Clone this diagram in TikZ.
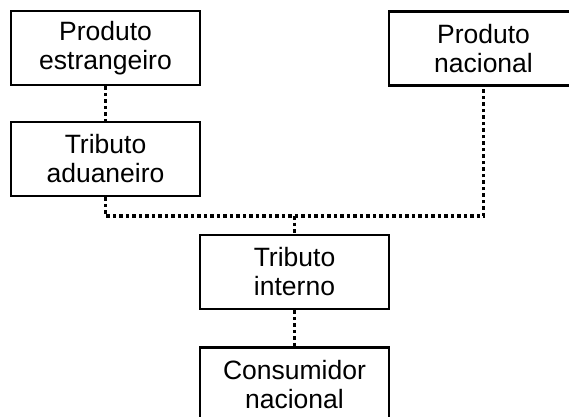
\documentclass[tikz,border=0pt]{standalone}
\usepackage{fontspec}
\setmainfont{Liberation Sans}
\begin{document}
\begin{tikzpicture}[x=1pt,y=-1pt,
  box/.style={draw=black, line width=2.5pt, minimum width=189pt, minimum height=74pt,
    inner sep=0pt, align=center, font=\fontsize{26.5}{29}\selectfont},
  link/.style={line width=3.4pt, dash pattern=on 3.5pt off 3pt}]
\useasboundingbox (0,0) rectangle (569,416);
\clip (0,0) rectangle (569,416);
\node[box] (pe) at (105.5,48) {Produto\\estrangeiro};
\node[box] (ta) at (105.5,159) {Tributo\\aduaneiro};
\node[box] (pn) at (483.5,48.5) {Produto\\nacional};
\node[box] (ti) at (294.5,272) {Tributo\\interno};
\node[box] (cn) at (294.5,384.5) {Consumidor\\nacional};
\coordinate (j) at (294.5,216);
\draw[link] (pe.south) -- (ta.north);
\draw[link] (ta.south) -- (ta.south |- j) -- (pn.south |- j) -- (pn.south);
\draw[link] (j) -- (ti.north);
\draw[link] (ti.south) -- (cn.north);
\end{tikzpicture}
\end{document}
